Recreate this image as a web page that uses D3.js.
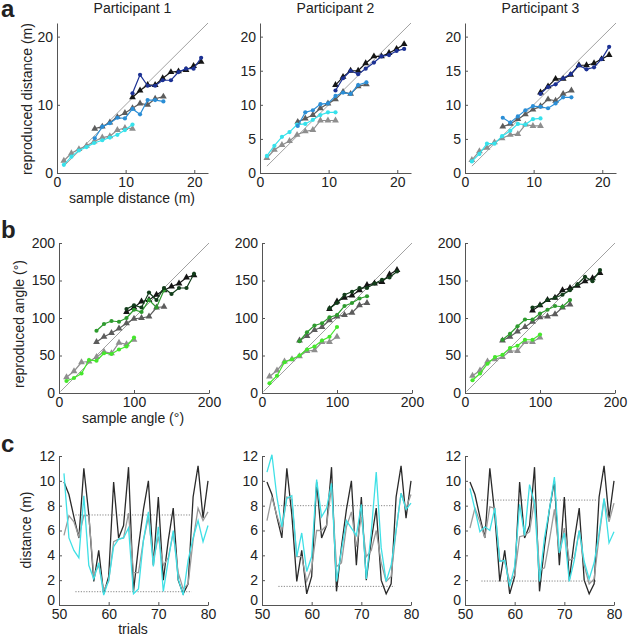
<!DOCTYPE html>
<html><head><meta charset="utf-8">
<script src="https://cdn.jsdelivr.net/npm/d3@7"></script>
<style>body{margin:0;background:#fff} text{font-family:Arial,"Liberation Sans",sans-serif;fill:#222}</style>
</head><body>
<svg id="chart" width="628" height="639"></svg>
<script>
// ---------- DATA ----------
const participants = ["Participant 1", "Participant 2", "Participant 3"];

// panel a: sample distances (m)
const distShortX = [1.0, 2.1, 3.2, 4.3, 5.4, 6.6, 7.7, 8.8, 9.9, 11.0];
const distMidX   = [5.5, 6.6, 7.7, 8.8, 9.9, 11.0, 12.1, 13.2, 14.3, 15.5];
const distLongX  = [11.0, 12.1, 13.2, 14.3, 15.4, 16.6, 17.7, 18.8, 19.9, 21.0];

// reproduced distances (participant, dots) per participant
const distShortP = [
  [1.2, 2.4, 3.3, 3.8, 4.4, 4.8, 5.2, 5.6, 6.3, 7.1],
  [2.5, 4.0, 5.3, 6.0, 7.1, 7.2, 7.8, 8.5, 8.9, 8.9],
  [1.7, 2.8, 4.3, 4.3, 5.4, 6.2, 7.2, 7.1, 7.9, 8.0]];
const distMidP = [
  [5.1, 6.8, 7.3, 8.1, 8.0, 9.4, 8.6, 10.7, 10.7, 10.5],
  [6.9, 8.9, 9.2, 10.1, 10.2, 11.3, 11.8, 11.6, 12.9, 13.3],
  [8.1, 7.4, 8.3, 9.2, 9.8, 9.7, 9.5, 10.2, 11.1, 11.1]];
const distLongP = [
  [11.7, 14.4, 12.8, 12.8, 13.6, 13.6, 14.8, 15.3, 15.3, 16.9],
  [12.1, 13.9, 15.0, 14.5, 15.3, 16.2, 17.1, 17.3, 17.9, 18.2],
  [11.6, 12.6, 13.0, 13.9, 14.5, 15.8, 15.2, 15.5, 16.7, 18.5]];
// model (triangles)
const distShortM = [
  [1.8, 2.9, 3.5, 4.0, 4.6, 5.2, 5.4, 6.3, 6.6, 6.5],
  [2.2, 3.4, 4.1, 4.7, 5.6, 6.1, 6.3, 7.7, 7.7, 7.7],
  [1.9, 3.2, 3.7, 4.5, 5.1, 5.6, 5.7, 7.1, 6.9, 6.9]];
const distMidM = [
  [6.5, 6.8, 7.4, 8.2, 8.8, 9.5, 10.2, 10.0, 10.9, 11.2],
  [7.5, 8.0, 8.5, 9.5, 10.2, 10.8, 11.9, 11.6, 12.7, 13.0],
  [6.8, 7.2, 7.9, 8.6, 9.3, 9.8, 10.8, 10.6, 11.6, 12.1]];
const distLongM = [
  [11.1, 12.1, 12.9, 12.9, 13.9, 14.8, 14.9, 15.1, 15.7, 16.3],
  [12.9, 14.1, 15.0, 15.0, 16.1, 17.1, 17.1, 17.6, 18.2, 18.9],
  [11.8, 12.7, 13.8, 13.8, 14.4, 15.8, 15.8, 16.1, 16.7, 17.3]];

// panel b: sample angles (deg)
const angShortX = [10, 20, 30, 40, 50, 60, 70, 80, 90, 100];
const angMidX   = [50, 60, 70, 80, 90, 100, 110, 120, 130, 140];
const angLongX  = [90, 100, 110, 120, 130, 140, 150, 160, 170, 180];

const angShortP = [
  [16, 20, 26, 44, 43, 53, 52, 58, 62, 74],
  [13, 23, 41, 45, 50, 58, 62, 70, 75, 88],
  [17, 26, 39, 48, 51, 60, 63, 71, 71, 78]];
const angMidP = [
  [83, 92, 96, 95, 100, 111, 108, 124, 114, 137],
  [69, 81, 90, 93, 101, 104, 116, 120, 126, 129],
  [71, 79, 89, 98, 98, 106, 111, 116, 115, 124]];
const angLongP = [
  [112, 117, 114, 134, 124, 140, 132, 140, 140, 159],
  [113, 120, 131, 135, 140, 140, 146, 151, 154, 162],
  [114, 117, 124, 127, 131, 137, 145, 155, 149, 164]];
const angShortM = [
  [21, 29, 41, 42, 48, 55, 53, 67, 65, 71],
  [22, 30, 42, 45, 49, 56, 57, 68, 68, 75],
  [23, 30, 42, 45, 48, 56, 56, 68, 68, 74]];
const angMidM = [
  [68, 75, 80, 86, 93, 99, 100, 102, 114, 115],
  [70, 76, 84, 88, 97, 102, 104, 107, 117, 120],
  [70, 75, 82, 88, 95, 101, 102, 105, 114, 118]];
const angLongM = [
  [108, 114, 122, 124, 131, 137, 142, 146, 154, 157],
  [112, 122, 127, 130, 137, 144, 146, 148, 158, 164],
  [110, 117, 124, 127, 137, 140, 143, 149, 153, 160]];

// panel c: trials
const trials = [51,52,53,54,55,56,57,58,59,60,61,62,63,64,65,66,67,68,69,70,71,72,73,74,75,76,77,78,79,80];
const sampleDist = [9.9, 8.9, 7.1, 5.4, 11.0, 7.3, 1.9, 4.4, 0.9, 2.3, 9.9, 5.4, 6.4, 11.1, 1.1, 4.7, 7.7, 10.0, 3.2, 8.7, 2.0, 5.2, 7.8, 2.0, 0.9, 1.7, 8.7, 11.2, 7.0, 10.0];
const trialResp = [
  [10.6, 5.4, 4.4, 3.8, 8.8, 3.2, 2.1, 3.4, 0.8, 2.0, 4.7, 5.3, 5.4, 6.2, 0.9, 1.3, 5.2, 7.5, 3.1, 6.3, 1.1, 3.6, 6.0, 2.1, 0.8, 3.6, 5.4, 6.8, 5.1, 6.4],
  [10.7, 12.1, 8.7, 6.3, 8.6, 8.8, 3.9, 5.8, 2.7, 3.9, 10.1, 7.1, 7.8, 9.8, 1.9, 4.4, 6.8, 6.2, 5.6, 8.1, 2.1, 5.9, 10.7, 4.6, 1.9, 3.2, 6.0, 9.0, 7.7, 8.2],
  [9.4, 7.7, 5.9, 6.3, 6.0, 7.8, 3.5, 3.6, 1.5, 3.1, 8.1, 5.6, 9.7, 8.2, 1.9, 5.4, 7.7, 10.3, 4.2, 5.8, 1.9, 3.6, 6.0, 3.5, 2.1, 3.4, 5.8, 8.6, 5.0, 5.9]];
const trialModel = [
  [5.6, 7.2, 6.7, 5.5, 7.2, 7.2, 2.4, 3.2, 1.2, 1.9, 5.1, 5.3, 5.4, 7.4, 2.6, 2.6, 5.2, 7.1, 3.6, 5.5, 3.2, 3.8, 5.8, 2.6, 1.3, 1.7, 5.2, 7.8, 6.8, 7.5],
  [6.8, 8.7, 7.2, 6.0, 8.7, 8.5, 3.9, 3.9, 1.9, 3.0, 6.0, 6.0, 6.4, 9.5, 3.1, 3.4, 6.3, 7.5, 4.7, 7.1, 3.9, 4.4, 6.0, 3.4, 1.9, 2.3, 6.0, 9.0, 7.8, 8.9],
  [6.2, 7.8, 6.7, 5.4, 7.9, 7.8, 3.6, 3.5, 1.9, 2.4, 5.5, 5.6, 5.9, 8.5, 2.8, 3.0, 5.2, 7.7, 4.2, 6.2, 3.6, 3.8, 6.0, 3.2, 1.7, 2.1, 5.5, 8.5, 6.7, 8.2]];
const dottedHigh = [7.25, 8.0, 8.45];
const dottedLow  = [1.07, 1.5, 1.93];
const dottedSpan = [53.3, 76.7];

// tick values
const aXTicks = [0, 10, 20];
const aYTicks = [[0, 10, 20], [0, 5, 10, 15, 20], [0, 5, 10, 15, 20]];
const bXTicks = [0, 100, 200];
const bYTicks = [0, 50, 100, 150, 200];
const cXTicks = [50, 60, 70, 80];
const cYTicks = [0, 2, 4, 6, 8, 10, 12];

// ---------- DRAWING ----------
const svg = d3.select("#chart");
const FS = 14;
const colA = {shortP:"#36e2ec", midP:"#2b8ed6", longP:"#1c3194", shortM:"#8e8e8e", midM:"#5c5c5c", longM:"#151515"};
const colB = {shortP:"#45e62c", midP:"#2e9b2e", longP:"#123d1a", shortM:"#8e8e8e", midM:"#5c5c5c", longM:"#151515"};

function axes(g, x, y, xt, yt, w, h) {
  const ax = g.append("g").attr("transform", `translate(0,${h})`)
    .call(d3.axisBottom(x).tickValues(xt).tickSize(-3).tickPadding(4).tickSizeOuter(0));
  const ay = g.append("g")
    .call(d3.axisLeft(y).tickValues(yt).tickSize(-3).tickPadding(4).tickSizeOuter(0));
  [ax, ay].forEach(a => {
    a.select(".domain").attr("stroke", "#555");
    a.selectAll(".tick line").attr("stroke", "#555");
    a.selectAll("text").style("font-size", FS + "px").attr("fill", "#222");
  });
  return ay;
}

function scatterPanel(left, top, w, h, xd, yd, xt, yt, series, idLine) {
  const g = svg.append("g").attr("transform", `translate(${left},${top})`);
  const x = d3.scaleLinear().domain(xd).range([0, w]);
  const y = d3.scaleLinear().domain(yd).range([h, 0]);
  axes(g, x, y, xt, yt, w, h);
  g.append("line").attr("x1", x(idLine[0])).attr("y1", y(idLine[0]))
    .attr("x2", x(idLine[1])).attr("y2", y(idLine[1]))
    .attr("stroke", "#8a8a8a").attr("stroke-width", 0.8);
  const line = d3.line().x(d => x(d[0])).y(d => y(d[1]));
  series.forEach(s => {
    const pts = s.x.map((v, i) => [v, s.y[i]]);
    g.append("path").datum(pts).attr("d", line).attr("fill", "none")
      .attr("stroke", s.color).attr("stroke-width", 1.2);
    if (s.marker === "tri") {
      g.selectAll(null).data(pts).enter().append("path")
        .attr("d", d3.symbol(d3.symbolTriangle).size(20))
        .attr("transform", d => `translate(${x(d[0])},${y(d[1])})`)
        .attr("fill", s.color);
    } else {
      g.selectAll(null).data(pts).enter().append("circle")
        .attr("cx", d => x(d[0])).attr("cy", d => y(d[1])).attr("r", 2.1)
        .attr("fill", s.color);
    }
  });
  return g;
}

const aLeft = [57, 260, 465];
const bLeft = [59, 262, 465];
const cLeft = [59, 262, 465];

for (let p = 0; p < 3; p++) {
  scatterPanel(aLeft[p], 23, 151, 150, [0, 22], [0, 22], aXTicks, aYTicks[p], [
    {x: distShortX, y: distShortM[p], color: colA.shortM, marker: "tri"},
    {x: distMidX, y: distMidM[p], color: colA.midM, marker: "tri"},
    {x: distLongX, y: distLongM[p], color: colA.longM, marker: "tri"},
    {x: distShortX, y: distShortP[p], color: colA.shortP, marker: "dot"},
    {x: distMidX, y: distMidP[p], color: colA.midP, marker: "dot"},
    {x: distLongX, y: distLongP[p], color: colA.longP, marker: "dot"}
  ], [1, 22]);
  svg.append("text").attr("x", aLeft[p] + 75.5).attr("y", 13).attr("text-anchor", "middle")
    .style("font-size", FS + "px").text(participants[p]);

  scatterPanel(bLeft[p], 243, 150, 150, [0, 200], [0, 200], bXTicks, bYTicks, [
    {x: angShortX, y: angShortM[p], color: colB.shortM, marker: "tri"},
    {x: angMidX, y: angMidM[p], color: colB.midM, marker: "tri"},
    {x: angLongX, y: angLongM[p], color: colB.longM, marker: "tri"},
    {x: angShortX, y: angShortP[p], color: colB.shortP, marker: "dot"},
    {x: angMidX, y: angMidP[p], color: colB.midP, marker: "dot"},
    {x: angLongX, y: angLongP[p], color: colB.longP, marker: "dot"}
  ], [2, 200]);

  // panel c
  const g = svg.append("g").attr("transform", `translate(${cLeft[p]},456)`);
  const w = 149, h = 149;
  const x = d3.scaleLinear().domain([50, 80]).range([0, w]);
  const y = d3.scaleLinear().domain([0, 12]).range([h, 0]);
  const ay = axes(g, x, y, cXTicks, cYTicks, w, h);
  // lift the bottom "0" label a little so it sits above the "50" label
  ay.selectAll(".tick").filter(d => d === 0).select("text").attr("dy", "-0.05em");
  [dottedHigh[p], dottedLow[p]].forEach(v => {
    g.append("line").attr("x1", x(dottedSpan[0])).attr("x2", x(dottedSpan[1]))
      .attr("y1", y(v)).attr("y2", y(v)).attr("stroke", "#777")
      .attr("stroke-width", 0.9).attr("stroke-dasharray", "1.2,1.5");
  });
  const line = d3.line().x(d => x(d[0])).y(d => y(d[1]));
  [[sampleDist, "#2a2a2a"], [trialModel[p], "#9a9a9a"], [trialResp[p], "#3fe0e6"]].forEach(([arr, c]) => {
    g.append("path").datum(trials.map((t, i) => [t, arr[i]])).attr("d", line)
      .attr("fill", "none").attr("stroke", c).attr("stroke-width", 1.3);
  });
}

// axis labels
function label(txt, x, y, rot) {
  const t = svg.append("text").attr("text-anchor", "middle").style("font-size", FS + "px").text(txt);
  if (rot) t.attr("transform", `translate(${x},${y}) rotate(-90)`);
  else t.attr("x", x).attr("y", y);
}
label("reproduced distance (m)", 32, 99, true);
label("sample distance (m)", 132, 203, false);
label("reproduced angle (°)", 24, 324, true);
label("sample angle (°)", 133, 423, false);
label("distance (m)", 31, 530, true);
label("trials", 133, 634, false);

// panel letters
[["a", 17], ["b", 238], ["c", 452]].forEach(([l, yy]) => {
  svg.append("text").attr("x", 1).attr("y", yy).style("font-size", "24px")
    .style("font-weight", "bold").attr("fill", "#111").text(l);
});
</script>
</body></html>
